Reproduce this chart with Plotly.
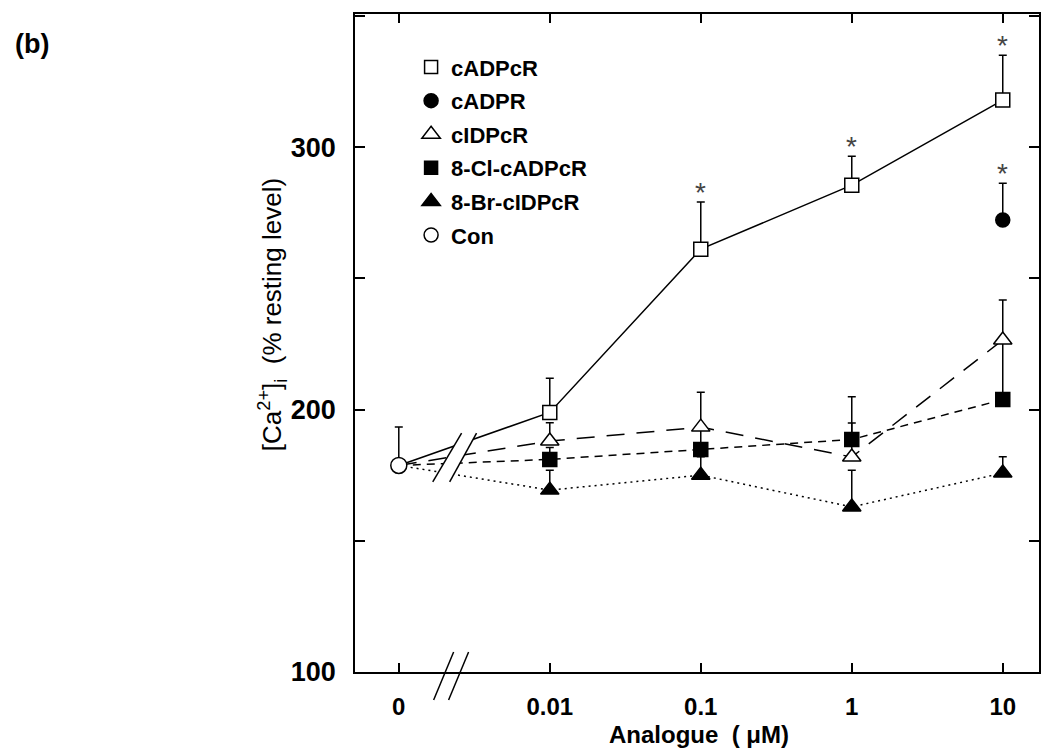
import plotly.graph_objects as go

# ---------------- data ----------------
conc_labels = ["0", "0.01", "0.1", "1", "10"]
conc_pos = [0, 1, 2, 3, 4]          # categorical positions along the broken axis

con_mean = [178.7]
con_err = [14.6]

cadpcr_mean = [198.9, 261.1, 285.5, 317.9]
cadpcr_err = [13.0, 18.0, 11.0, 17.1]
cadpcr_sig = [False, True, True, True]

cadpr_pos = [4]
cadpr_mean = [272.2]
cadpr_err = [14.0]
cadpr_sig = [True]

cidpcr_mean = [188.0, 193.3, 181.9, 226.5]
cidpcr_err = [7.0, 13.3, 13.0, 15.2]

clcadpcr_mean = [181.0, 184.8, 188.6, 203.8]
clcadpcr_err = [4.5, 9.0, 16.3, 22.0]

brcidpcr_mean = [169.3, 175.0, 162.9, 175.8]
brcidpcr_err = [7.6, 7.0, 14.0, 6.2]

y_major = [100, 200, 300]

# ---------------- style ----------------
FONT = "Liberation Sans, Arial, Helvetica, sans-serif"
BLACK = "black"
LW = 1.5

fig = go.Figure()

def err(arr):
    return dict(type="data", symmetric=False, array=arr, arrayminus=[0] * len(arr),
                color=BLACK, thickness=LW, width=4)

series = [
    ("cADPcR", cadpcr_mean, cadpcr_err, "solid", "square", "white", 14),
    ("cIDPcR", cidpcr_mean, cidpcr_err, "18px,12px", "triangle-up", "white", 16),
    ("8-Cl-cADPcR", clcadpcr_mean, clcadpcr_err, "8px,6px", "square", BLACK, 14),
    ("8-Br-cIDPcR", brcidpcr_mean, brcidpcr_err, "2px,4px", "triangle-up", BLACK, 16),
]

# connecting lines (start at the control value at concentration 0)
for name, mean, e, dash, sym, fill, size in series:
    fig.add_trace(go.Scatter(
        x=conc_pos, y=con_mean + mean, mode="lines",
        line=dict(color=BLACK, width=LW, dash=dash), showlegend=False, hoverinfo="skip"))

# markers with error bars (draw back-to-front)
for name, mean, e, dash, sym, fill, size in reversed(series):
    fig.add_trace(go.Scatter(
        x=conc_pos[1:], y=mean, mode="markers", error_y=err(e),
        marker=dict(symbol=sym, size=size, color=fill, line=dict(color=BLACK, width=LW)),
        showlegend=False))

fig.add_trace(go.Scatter(
    x=cadpr_pos, y=cadpr_mean, mode="markers", error_y=err(cadpr_err),
    marker=dict(symbol="circle", size=14, color=BLACK, line=dict(color=BLACK, width=LW)),
    showlegend=False))

fig.add_trace(go.Scatter(
    x=conc_pos[:1], y=con_mean, mode="markers", error_y=err(con_err),
    marker=dict(symbol="circle", size=16, color="white", line=dict(color=BLACK, width=LW)),
    showlegend=False))

# legend-only entries (markers only)
legend_items = [
    ("cADPcR", "square", "white", 13),
    ("cADPR", "circle", BLACK, 14),
    ("cIDPcR", "triangle-up", "white", 16),
    ("8-Cl-cADPcR", "square", BLACK, 13),
    ("8-Br-cIDPcR", "triangle-up", BLACK, 16),
    ("Con", "circle", "white", 14),
]
for i, (name, sym, fill, size) in enumerate(legend_items):
    fig.add_trace(go.Scatter(
        x=[None], y=[None], mode="markers", name=name, legendgroup=f"g{i}",
        marker=dict(symbol=sym, size=size, color=fill, line=dict(color=BLACK, width=LW))))

# significance asterisks
annotations = []
star_font = dict(family=FONT, size=28, color="#444")
for p, m, e, s in zip(conc_pos[1:], cadpcr_mean, cadpcr_err, cadpcr_sig):
    if s:
        annotations.append(dict(x=p, y=m + e, text="*", showarrow=False, yanchor="bottom",
                                yshift=-8, font=star_font))
for p, m, e, s in zip(cadpr_pos, cadpr_mean, cadpr_err, cadpr_sig):
    if s:
        annotations.append(dict(x=p, y=m + e, text="*", showarrow=False, yanchor="bottom",
                                yshift=-8, font=star_font))

annotations += [
    dict(xref="paper", yref="paper", x=-0.500, y=0.955, xanchor="left", yanchor="middle",
         text="(b)", showarrow=False, font=dict(family=FONT, size=27, color=BLACK, weight="bold")),
    dict(xref="paper", yref="paper", x=-0.121, y=0.5426, xanchor="center", yanchor="middle",
         textangle=-90,
         text="[Ca<sup>2+</sup>]<sub>i</sub>\u00a0\u00a0(% resting level)", showarrow=False,
         font=dict(family=FONT, size=26, color=BLACK)),
    dict(xref="paper", yref="paper", x=0.503, y=-0.0950, xanchor="center", yanchor="middle",
         text="Analogue\u00a0\u00a0( μM)", showarrow=False,
         font=dict(family=FONT, size=24, color=BLACK, weight="bold")),
]

# axis-break marks
shapes = [
    # break across the data lines
    dict(type="path", xref="x", yref="y", path="M 0.225,172.4 L 0.416,191 L 0.515,191 L 0.337,172.4 Z",
         fillcolor="white", line=dict(width=0), layer="above"),
    dict(type="line", xref="x", yref="y", x0=0.225, y0=172.4, x1=0.416, y1=191,
         line=dict(color=BLACK, width=LW), layer="above"),
    dict(type="line", xref="x", yref="y", x0=0.337, y0=172.4, x1=0.515, y1=191,
         line=dict(color=BLACK, width=LW), layer="above"),
]
# break on the x axis (pixel offsets from the axis line)
for x0 in (0.297, 0.396):
    shapes.append(dict(type="line", xref="x", yref="paper", xsizemode="pixel", ysizemode="pixel",
                       xanchor=x0, yanchor=0, x0=-10, x1=10, y0=-28, y1=20,
                       line=dict(color=BLACK, width=LW), layer="above"))

fig.update_layout(
    width=1041, height=749,
    margin=dict(l=355, r=0, t=14, b=77),
    paper_bgcolor="white", plot_bgcolor="white",
    annotations=annotations, shapes=shapes,
    showlegend=True,
    legend=dict(x=0.082, y=0.951, xanchor="left", yanchor="top", bgcolor="rgba(0,0,0,0)",
                traceorder="grouped", tracegroupgap=2,
                font=dict(family=FONT, size=22, color=BLACK, weight="bold")),
    xaxis=dict(range=[-0.29, 4.24], tickvals=conc_pos, ticktext=conc_labels,
               ticks="inside", ticklen=9, tickwidth=LW, tickcolor=BLACK,
               showline=True, linecolor=BLACK, linewidth=LW, mirror="ticks",
               showgrid=False, zeroline=False, ticklabelstandoff=12,
               tickfont=dict(family=FONT, size=24, color=BLACK, weight="bold")),
    yaxis=dict(range=[100, 350.7], tickvals=y_major,
               ticks="inside", ticklen=10, tickwidth=LW, tickcolor=BLACK,
               minor=dict(dtick=50, ticks="inside", ticklen=10, tickwidth=LW, tickcolor=BLACK,
                          showgrid=False),
               showline=True, linecolor=BLACK, linewidth=LW, mirror="ticks",
               showgrid=False, zeroline=False, ticklabelstandoff=12,
               tickfont=dict(family=FONT, size=27, color=BLACK, weight="bold")),
)

fig.write_html("out.html", post_script="document.body.style.margin='0';",
               config={"displayModeBar": False})
